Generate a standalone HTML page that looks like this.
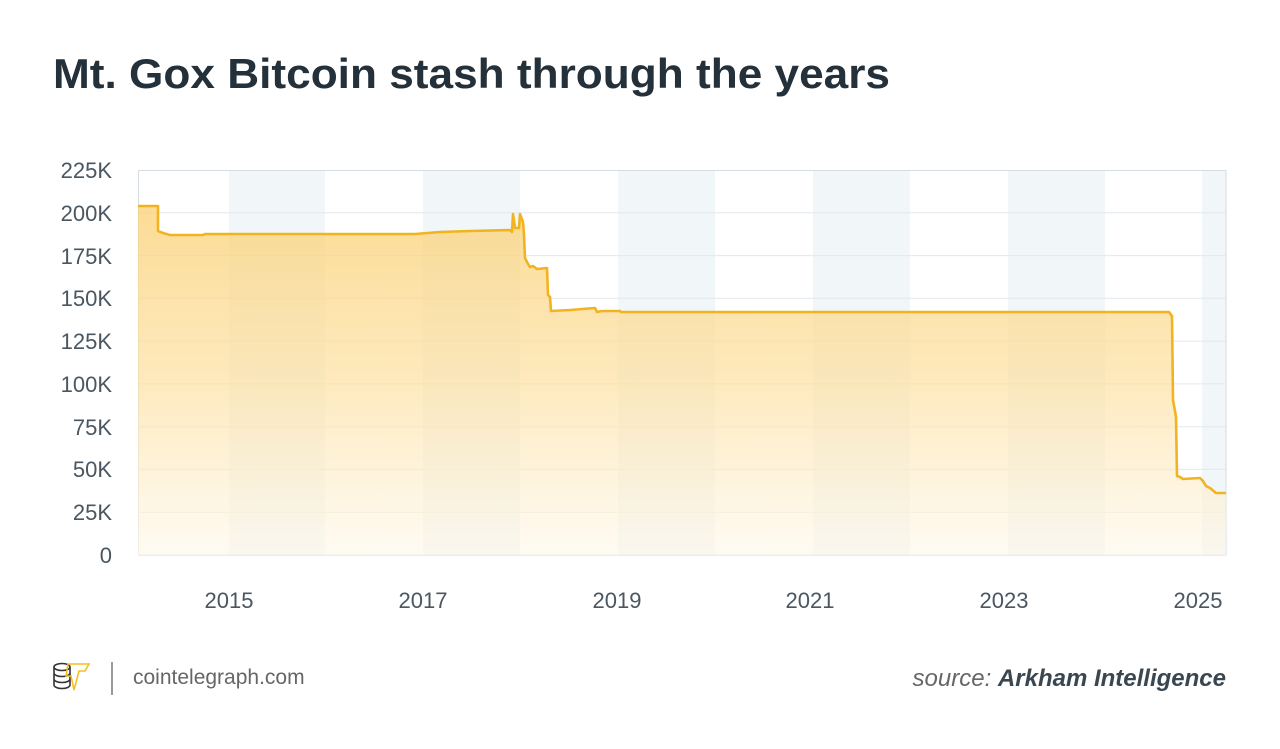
<!DOCTYPE html>
<html><head><meta charset="utf-8"><style>
html,body{margin:0;padding:0;background:#fff;width:1280px;height:749px;overflow:hidden;font-family:"Liberation Sans",sans-serif}
</style></head><body>
<svg width="1280" height="749" viewBox="0 0 1280 749" xmlns="http://www.w3.org/2000/svg">
<defs>
<linearGradient id="g" x1="0" y1="0" x2="0" y2="1">
<stop offset="0" stop-color="#fbd27a" stop-opacity="0.8"/>
<stop offset="0.5" stop-color="#fde0a0" stop-opacity="0.7"/>
<stop offset="1" stop-color="#fff8ea" stop-opacity="0.6"/>
</linearGradient>
</defs>
<text x="53" y="88" font-size="42" font-weight="bold" fill="#24303a" textLength="837" lengthAdjust="spacingAndGlyphs">Mt. Gox Bitcoin stash through the years</text>
<g fill="#f1f6f8">
<rect x="229" y="170" width="96" height="385"/>
<rect x="423" y="170" width="97" height="385"/>
<rect x="618" y="170" width="97" height="385"/>
<rect x="813" y="170" width="97" height="385"/>
<rect x="1008" y="170" width="97" height="385"/>
<rect x="1202" y="170" width="24" height="385"/>
</g>
<g stroke="#e4e8eb" stroke-width="1">
<line x1="138" x2="1226" y1="212.8" y2="212.8"/><line x1="138" x2="1226" y1="255.6" y2="255.6"/>
<line x1="138" x2="1226" y1="298.3" y2="298.3"/><line x1="138" x2="1226" y1="341.1" y2="341.1"/>
<line x1="138" x2="1226" y1="383.9" y2="383.9"/><line x1="138" x2="1226" y1="426.7" y2="426.7"/>
<line x1="138" x2="1226" y1="469.4" y2="469.4"/><line x1="138" x2="1226" y1="512.2" y2="512.2"/>
</g>
<rect x="138.5" y="170.5" width="1087.5" height="384.5" fill="none" stroke="#d5dde2"/>
<path d="M138,555 L138,206 L158,206 L158,231 L163,233 L170,235 L203,235 L205,234 L415,234 L440,232 L470,231 L510,230 L512,232 L513,214 L515,228 L519,228 L520,214 L523,222 L524,235 L525,258 L527,262 L530,267 L533,266 L537,269 L547,268 L548,295 L550,297 L551,311 L570,310 L595,308 L597,312 L602,311 L620,311 L621,312 L1169,312 L1172,316 L1173,400 L1176,417 L1177,476 L1180,477 L1183,479 L1200,478 L1203,481 L1206,486 L1210,488 L1216,493 L1226,493 L1226,555 Z" fill="url(#g)"/>
<path d="M138,206 L158,206 L158,231 L163,233 L170,235 L203,235 L205,234 L415,234 L440,232 L470,231 L510,230 L512,232 L513,214 L515,228 L519,228 L520,214 L523,222 L524,235 L525,258 L527,262 L530,267 L533,266 L537,269 L547,268 L548,295 L550,297 L551,311 L570,310 L595,308 L597,312 L602,311 L620,311 L621,312 L1169,312 L1172,316 L1173,400 L1176,417 L1177,476 L1180,477 L1183,479 L1200,478 L1203,481 L1206,486 L1210,488 L1216,493 L1226,493" fill="none" stroke="#f2b320" stroke-width="2.6" stroke-linejoin="round"/>
<g font-family="Liberation Sans,sans-serif" font-size="22" fill="#4a5660" text-anchor="end">
<text x="112" y="178">225K</text><text x="112" y="221">200K</text><text x="112" y="264">175K</text>
<text x="112" y="306">150K</text><text x="112" y="349">125K</text><text x="112" y="392">100K</text>
<text x="112" y="435">75K</text><text x="112" y="477">50K</text><text x="112" y="520">25K</text>
<text x="112" y="563">0</text>
</g>
<g font-size="22" fill="#4a5660" text-anchor="middle">
<text x="229" y="608">2015</text><text x="423" y="608">2017</text><text x="617" y="608">2019</text>
<text x="810" y="608">2021</text><text x="1004" y="608">2023</text><text x="1198" y="608">2025</text>
</g>
<g fill="none" stroke="#333" stroke-width="1.6">
<ellipse cx="62" cy="667" rx="8" ry="3.5"/>
<path d="M54,667 v18 M70,667 v18 M54,673 a8 3.5 0 0 0 16 0 M54,679 a8 3.5 0 0 0 16 0 M54,685 a8 3.5 0 0 0 16 0"/>
</g>
<path d="M68,664 L89,664 L85,671 L79,671 L74,690 L71,676 L66,676 Z" fill="none" stroke="#f3c020" stroke-width="1.6"/>
<line x1="112" y1="662" x2="112" y2="695" stroke="#777" stroke-width="1.5"/>
<text x="133" y="684" font-size="21" fill="#666">cointelegraph.com</text>
<text x="1226" y="686" font-size="24" text-anchor="end" fill="#666" font-style="italic">source: <tspan font-weight="bold" fill="#3a4650">Arkham Intelligence</tspan></text>
</svg>
</body></html>
